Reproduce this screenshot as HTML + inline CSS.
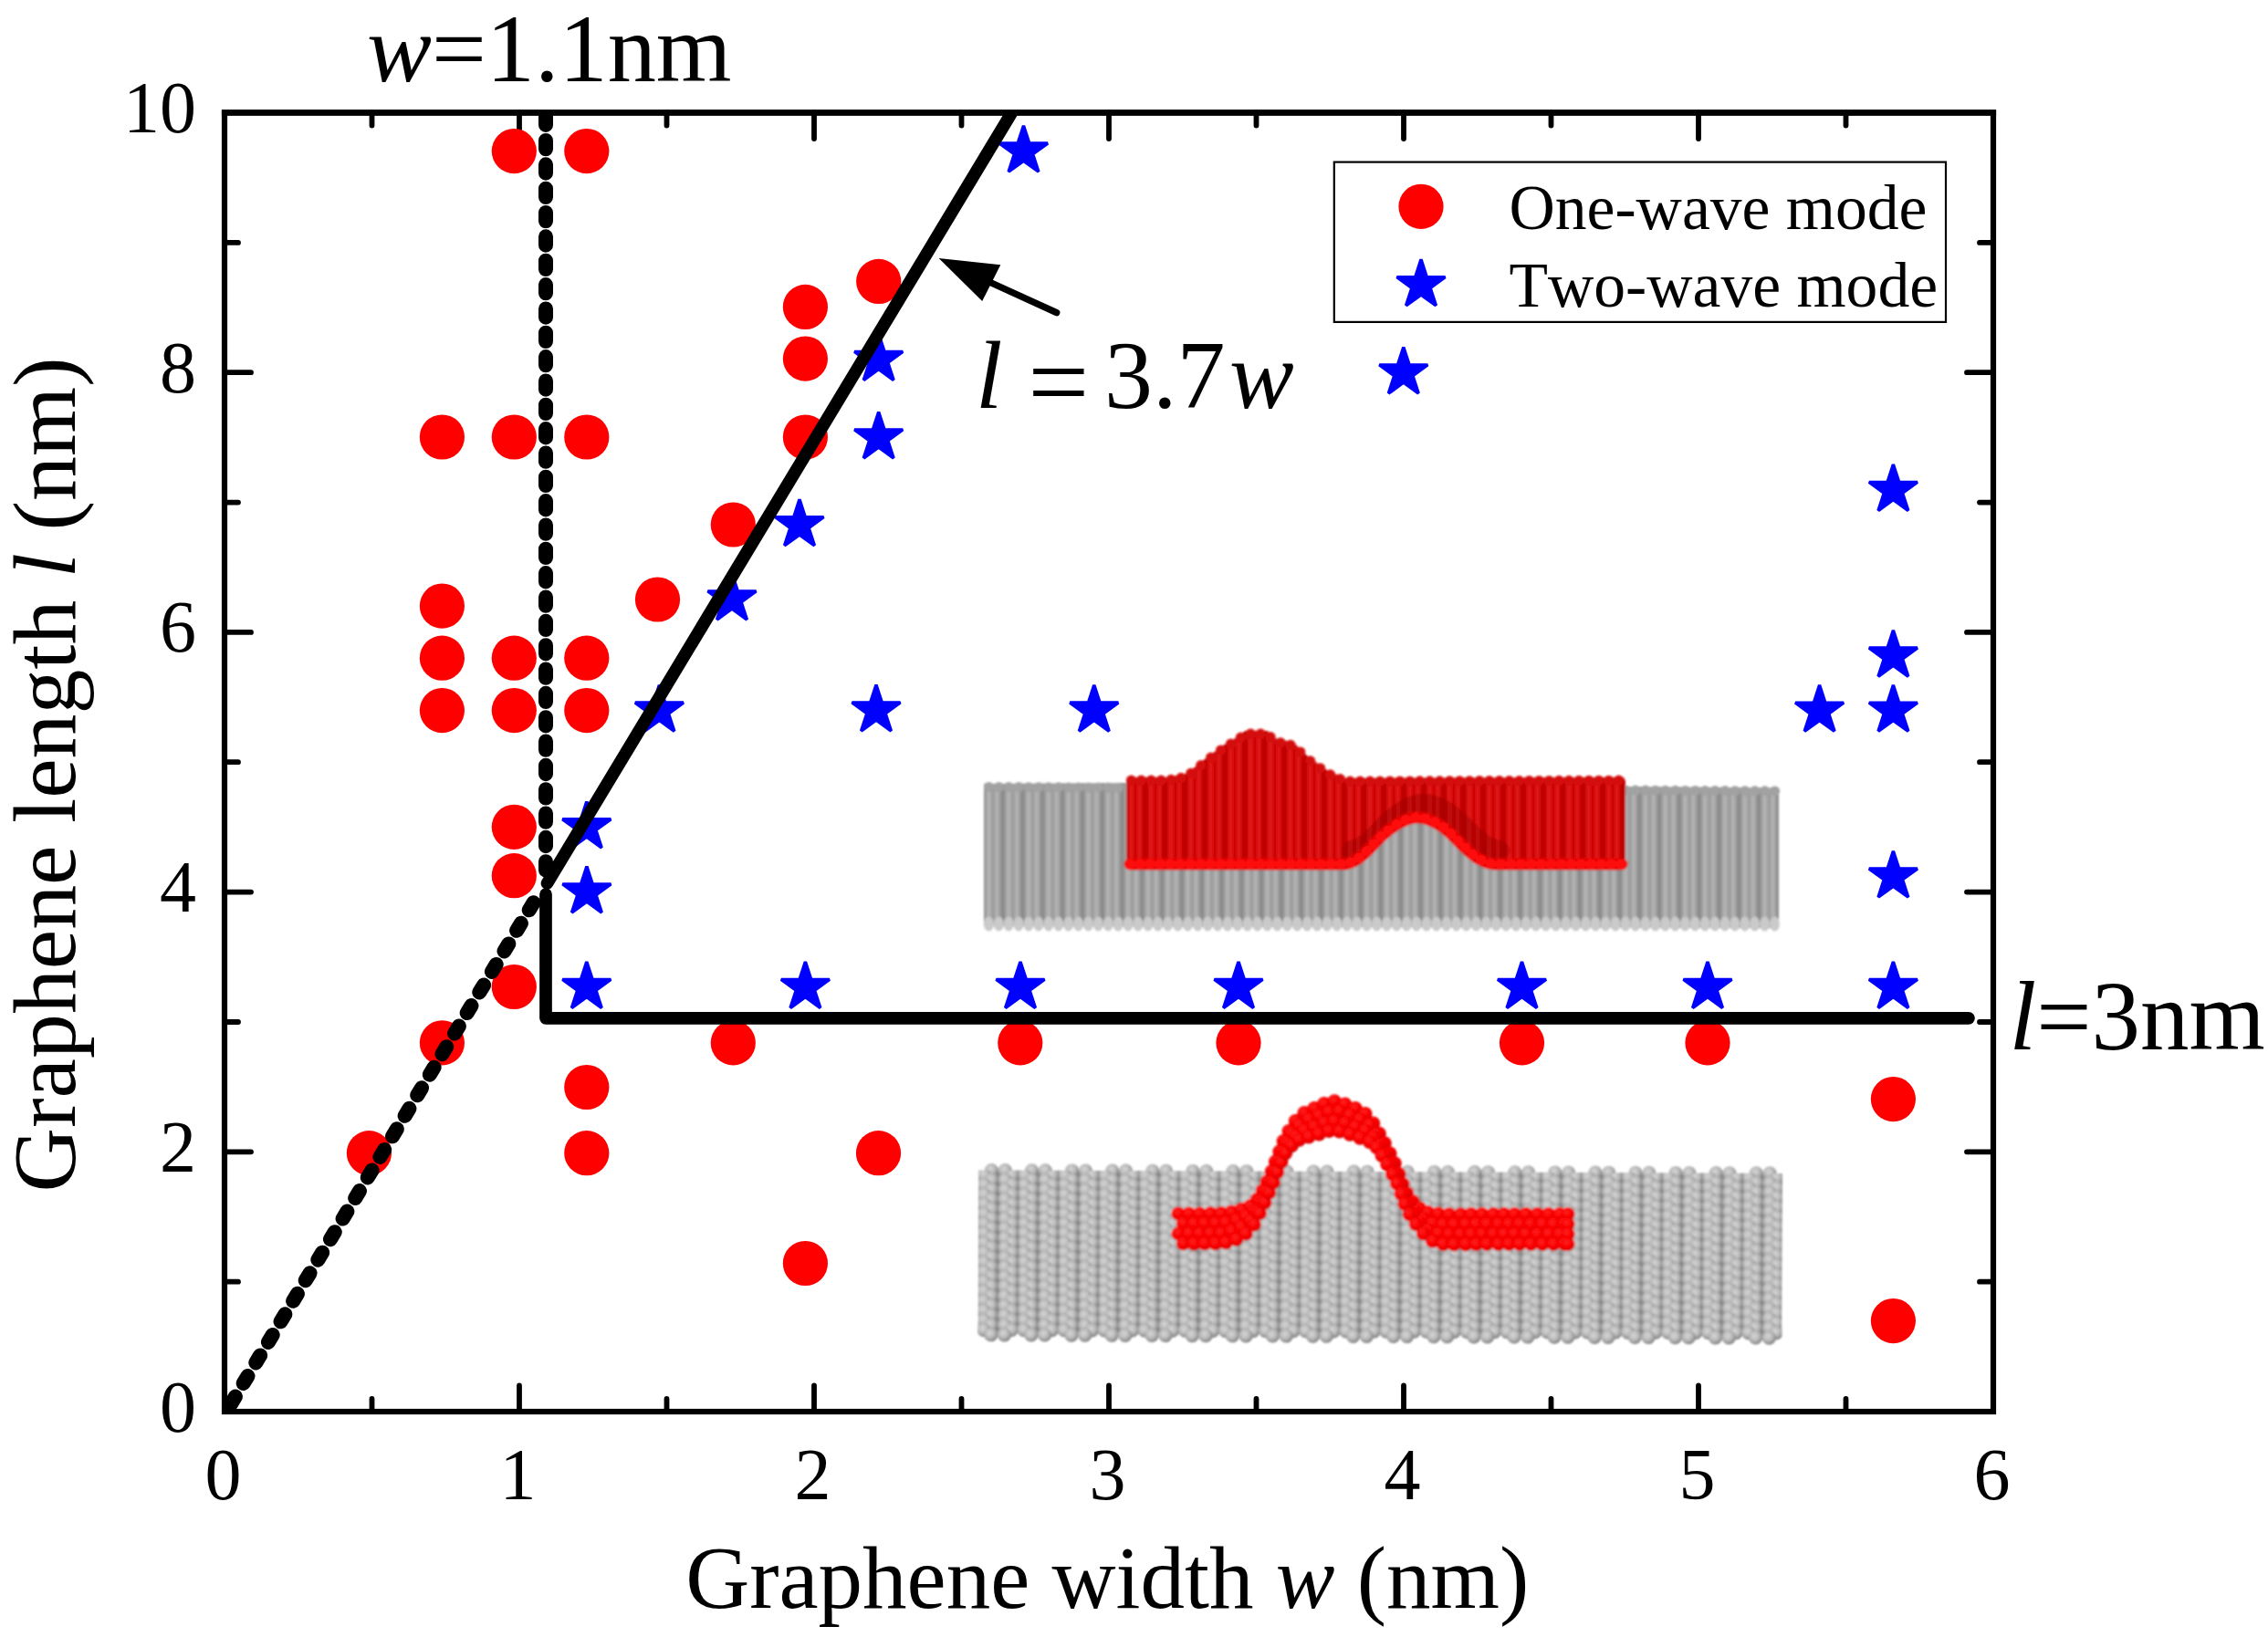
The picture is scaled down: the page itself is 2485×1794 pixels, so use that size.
<!DOCTYPE html>
<html lang="en">
<head>
<meta charset="utf-8">
<title>Graphene wave-mode phase diagram</title>
<style>
html,body{margin:0;padding:0;background:#fff;}
body{width:2485px;height:1794px;overflow:hidden;}
svg{display:block;}
text{font-family:"Liberation Serif",serif;fill:#000;font-kerning:none;}
.it{font-style:italic;}
</style>
</head>
<body>
<svg width="2485" height="1794" viewBox="0 0 2485 1794">
<defs>
<filter id="soft" x="-2%" y="-5%" width="104%" height="110%"><feGaussianBlur stdDeviation="0.9"/></filter>
<clipPath id="plotclip"><rect x="246.0" y="123.5" width="1938.0" height="1423.5"/></clipPath>
<radialGradient id="gBead" cx="42%" cy="38%" r="62%">
 <stop offset="0" stop-color="#d6d6d6"/><stop offset="0.5" stop-color="#bcbcbc"/><stop offset="0.85" stop-color="#969696"/><stop offset="1" stop-color="#787878"/>
</radialGradient>
<radialGradient id="rBead" cx="40%" cy="35%" r="70%">
 <stop offset="0" stop-color="#ff2020"/><stop offset="0.55" stop-color="#fa0000"/><stop offset="0.85" stop-color="#e00000"/><stop offset="1" stop-color="#a80000"/>
</radialGradient>
<!-- lower substrate: bead texture -->
<pattern id="pLow" x="1072.2" y="1282.5" width="44.1" height="10.6" patternUnits="userSpaceOnUse">
<rect width="44.1" height="10.6" fill="#8a8a8a"/>
<circle cx="6.30" cy="-5.30" r="7.5" fill="url(#gBead)"/>
<circle cx="50.40" cy="-5.30" r="7.5" fill="url(#gBead)"/>
<circle cx="-7.30" cy="-5.30" r="7.5" fill="url(#gBead)"/>
<circle cx="36.80" cy="-5.30" r="7.5" fill="url(#gBead)"/>
<circle cx="14.20" cy="0.00" r="7.5" fill="url(#gBead)"/>
<circle cx="29.00" cy="0.00" r="7.5" fill="url(#gBead)"/>
<circle cx="6.30" cy="5.30" r="7.5" fill="url(#gBead)"/>
<circle cx="50.40" cy="5.30" r="7.5" fill="url(#gBead)"/>
<circle cx="-7.30" cy="5.30" r="7.5" fill="url(#gBead)"/>
<circle cx="36.80" cy="5.30" r="7.5" fill="url(#gBead)"/>
<circle cx="14.20" cy="10.60" r="7.5" fill="url(#gBead)"/>
<circle cx="29.00" cy="10.60" r="7.5" fill="url(#gBead)"/>
<circle cx="6.30" cy="15.90" r="7.5" fill="url(#gBead)"/>
<circle cx="50.40" cy="15.90" r="7.5" fill="url(#gBead)"/>
<circle cx="-7.30" cy="15.90" r="7.5" fill="url(#gBead)"/>
<circle cx="36.80" cy="15.90" r="7.5" fill="url(#gBead)"/>
</pattern>
<!-- upper substrate: vertical ribs -->
<linearGradient id="ribG" x1="0" x2="1" y1="0" y2="0">
 <stop offset="0" stop-color="#8c8c8c"/><stop offset="0.1" stop-color="#a0a0a0"/><stop offset="0.24" stop-color="#b8b8b8"/>
 <stop offset="0.38" stop-color="#a4a4a4"/><stop offset="0.46" stop-color="#9a9a9a"/><stop offset="0.54" stop-color="#a4a4a4"/>
 <stop offset="0.66" stop-color="#b6b6b6"/><stop offset="0.8" stop-color="#a0a0a0"/><stop offset="0.92" stop-color="#888888"/>
 <stop offset="1" stop-color="#8c8c8c"/>
</linearGradient>
<pattern id="pUp" x="1078" y="858" width="21.8" height="8" patternUnits="userSpaceOnUse">
 <rect width="21.8" height="8" fill="url(#ribG)"/>
</pattern>
<linearGradient id="ribR" x1="0" x2="1" y1="0" y2="0">
 <stop offset="0" stop-color="#bc0000"/><stop offset="0.1" stop-color="#d00808"/><stop offset="0.24" stop-color="#e41c1c"/>
 <stop offset="0.38" stop-color="#d40a0a"/><stop offset="0.46" stop-color="#ca0202"/><stop offset="0.54" stop-color="#d40a0a"/>
 <stop offset="0.66" stop-color="#e21a1a"/><stop offset="0.8" stop-color="#d00606"/><stop offset="0.92" stop-color="#b80000"/>
 <stop offset="1" stop-color="#bc0000"/>
</linearGradient>
<pattern id="pRed" x="1234" y="853" width="21.8" height="8" patternUnits="userSpaceOnUse">
 <rect width="21.8" height="8" fill="url(#ribR)"/>
</pattern>
</defs>
<rect width="2485" height="1794" fill="#ffffff"/>

<g id="inset-two-wave" filter="url(#soft)">
<path d="M1078,859 L1234,858 L1781,862 L1949,863.5 L1949,1017 L1078,1015 Z" fill="url(#pUp)"/>
<ellipse cx="1083.4" cy="1012.5" rx="5.4" ry="8" fill="#cacaca"/><ellipse cx="1094.3" cy="1012.5" rx="5.4" ry="8" fill="#cacaca"/><ellipse cx="1105.2" cy="1012.5" rx="5.4" ry="8" fill="#cacaca"/><ellipse cx="1116.1" cy="1012.5" rx="5.4" ry="8" fill="#cacaca"/><ellipse cx="1127.0" cy="1012.5" rx="5.4" ry="8" fill="#cacaca"/><ellipse cx="1137.9" cy="1012.5" rx="5.4" ry="8" fill="#cacaca"/><ellipse cx="1148.8" cy="1012.5" rx="5.4" ry="8" fill="#cacaca"/><ellipse cx="1159.7" cy="1012.5" rx="5.4" ry="8" fill="#cacaca"/><ellipse cx="1170.6" cy="1012.5" rx="5.4" ry="8" fill="#cacaca"/><ellipse cx="1181.5" cy="1012.5" rx="5.4" ry="8" fill="#cacaca"/><ellipse cx="1192.4" cy="1012.5" rx="5.4" ry="8" fill="#cacaca"/><ellipse cx="1203.3" cy="1012.5" rx="5.4" ry="8" fill="#cacaca"/><ellipse cx="1214.2" cy="1012.5" rx="5.4" ry="8" fill="#cacaca"/><ellipse cx="1225.1" cy="1012.5" rx="5.4" ry="8" fill="#cacaca"/><ellipse cx="1236.0" cy="1012.5" rx="5.4" ry="8" fill="#cacaca"/><ellipse cx="1246.9" cy="1012.5" rx="5.4" ry="8" fill="#cacaca"/><ellipse cx="1257.8" cy="1012.5" rx="5.4" ry="8" fill="#cacaca"/><ellipse cx="1268.7" cy="1012.5" rx="5.4" ry="8" fill="#cacaca"/><ellipse cx="1279.6" cy="1012.5" rx="5.4" ry="8" fill="#cacaca"/><ellipse cx="1290.5" cy="1012.5" rx="5.4" ry="8" fill="#cacaca"/><ellipse cx="1301.4" cy="1012.5" rx="5.4" ry="8" fill="#cacaca"/><ellipse cx="1312.3" cy="1012.5" rx="5.4" ry="8" fill="#cacaca"/><ellipse cx="1323.2" cy="1012.5" rx="5.4" ry="8" fill="#cacaca"/><ellipse cx="1334.1" cy="1012.5" rx="5.4" ry="8" fill="#cacaca"/><ellipse cx="1345.0" cy="1012.5" rx="5.4" ry="8" fill="#cacaca"/><ellipse cx="1355.9" cy="1012.5" rx="5.4" ry="8" fill="#cacaca"/><ellipse cx="1366.8" cy="1012.5" rx="5.4" ry="8" fill="#cacaca"/><ellipse cx="1377.7" cy="1012.5" rx="5.4" ry="8" fill="#cacaca"/><ellipse cx="1388.6" cy="1012.5" rx="5.4" ry="8" fill="#cacaca"/><ellipse cx="1399.5" cy="1012.5" rx="5.4" ry="8" fill="#cacaca"/><ellipse cx="1410.4" cy="1012.5" rx="5.4" ry="8" fill="#cacaca"/><ellipse cx="1421.3" cy="1012.5" rx="5.4" ry="8" fill="#cacaca"/><ellipse cx="1432.2" cy="1012.5" rx="5.4" ry="8" fill="#cacaca"/><ellipse cx="1443.1" cy="1012.5" rx="5.4" ry="8" fill="#cacaca"/><ellipse cx="1454.0" cy="1012.5" rx="5.4" ry="8" fill="#cacaca"/><ellipse cx="1464.9" cy="1012.5" rx="5.4" ry="8" fill="#cacaca"/><ellipse cx="1475.8" cy="1012.5" rx="5.4" ry="8" fill="#cacaca"/><ellipse cx="1486.7" cy="1012.5" rx="5.4" ry="8" fill="#cacaca"/><ellipse cx="1497.6" cy="1012.5" rx="5.4" ry="8" fill="#cacaca"/><ellipse cx="1508.5" cy="1012.5" rx="5.4" ry="8" fill="#cacaca"/><ellipse cx="1519.4" cy="1012.5" rx="5.4" ry="8" fill="#cacaca"/><ellipse cx="1530.3" cy="1012.5" rx="5.4" ry="8" fill="#cacaca"/><ellipse cx="1541.2" cy="1012.5" rx="5.4" ry="8" fill="#cacaca"/><ellipse cx="1552.1" cy="1012.5" rx="5.4" ry="8" fill="#cacaca"/><ellipse cx="1563.0" cy="1012.5" rx="5.4" ry="8" fill="#cacaca"/><ellipse cx="1573.9" cy="1012.5" rx="5.4" ry="8" fill="#cacaca"/><ellipse cx="1584.8" cy="1012.5" rx="5.4" ry="8" fill="#cacaca"/><ellipse cx="1595.7" cy="1012.5" rx="5.4" ry="8" fill="#cacaca"/><ellipse cx="1606.6" cy="1012.5" rx="5.4" ry="8" fill="#cacaca"/><ellipse cx="1617.5" cy="1012.5" rx="5.4" ry="8" fill="#cacaca"/><ellipse cx="1628.4" cy="1012.5" rx="5.4" ry="8" fill="#cacaca"/><ellipse cx="1639.3" cy="1012.5" rx="5.4" ry="8" fill="#cacaca"/><ellipse cx="1650.2" cy="1012.5" rx="5.4" ry="8" fill="#cacaca"/><ellipse cx="1661.1" cy="1012.5" rx="5.4" ry="8" fill="#cacaca"/><ellipse cx="1672.0" cy="1012.5" rx="5.4" ry="8" fill="#cacaca"/><ellipse cx="1682.9" cy="1012.5" rx="5.4" ry="8" fill="#cacaca"/><ellipse cx="1693.8" cy="1012.5" rx="5.4" ry="8" fill="#cacaca"/><ellipse cx="1704.7" cy="1012.5" rx="5.4" ry="8" fill="#cacaca"/><ellipse cx="1715.6" cy="1012.5" rx="5.4" ry="8" fill="#cacaca"/><ellipse cx="1726.5" cy="1012.5" rx="5.4" ry="8" fill="#cacaca"/><ellipse cx="1737.4" cy="1012.5" rx="5.4" ry="8" fill="#cacaca"/><ellipse cx="1748.3" cy="1012.5" rx="5.4" ry="8" fill="#cacaca"/><ellipse cx="1759.2" cy="1012.5" rx="5.4" ry="8" fill="#cacaca"/><ellipse cx="1770.1" cy="1012.5" rx="5.4" ry="8" fill="#cacaca"/><ellipse cx="1781.0" cy="1012.5" rx="5.4" ry="8" fill="#cacaca"/><ellipse cx="1791.9" cy="1012.5" rx="5.4" ry="8" fill="#cacaca"/><ellipse cx="1802.8" cy="1012.5" rx="5.4" ry="8" fill="#cacaca"/><ellipse cx="1813.7" cy="1012.5" rx="5.4" ry="8" fill="#cacaca"/><ellipse cx="1824.6" cy="1012.5" rx="5.4" ry="8" fill="#cacaca"/><ellipse cx="1835.5" cy="1012.5" rx="5.4" ry="8" fill="#cacaca"/><ellipse cx="1846.4" cy="1012.5" rx="5.4" ry="8" fill="#cacaca"/><ellipse cx="1857.3" cy="1012.5" rx="5.4" ry="8" fill="#cacaca"/><ellipse cx="1868.2" cy="1012.5" rx="5.4" ry="8" fill="#cacaca"/><ellipse cx="1879.1" cy="1012.5" rx="5.4" ry="8" fill="#cacaca"/><ellipse cx="1890.0" cy="1012.5" rx="5.4" ry="8" fill="#cacaca"/><ellipse cx="1900.9" cy="1012.5" rx="5.4" ry="8" fill="#cacaca"/><ellipse cx="1911.8" cy="1012.5" rx="5.4" ry="8" fill="#cacaca"/><ellipse cx="1922.7" cy="1012.5" rx="5.4" ry="8" fill="#cacaca"/><ellipse cx="1933.6" cy="1012.5" rx="5.4" ry="8" fill="#cacaca"/><ellipse cx="1944.5" cy="1012.5" rx="5.4" ry="8" fill="#cacaca"/>
<circle cx="1083.5" cy="862.5" r="5.6" fill="#a2a2a2"/><circle cx="1094.4" cy="862.6" r="5.6" fill="#a2a2a2"/><circle cx="1105.3" cy="862.6" r="5.6" fill="#a2a2a2"/><circle cx="1116.2" cy="862.7" r="5.6" fill="#a2a2a2"/><circle cx="1127.1" cy="862.8" r="5.6" fill="#a2a2a2"/><circle cx="1138.0" cy="862.8" r="5.6" fill="#a2a2a2"/><circle cx="1148.9" cy="862.9" r="5.6" fill="#a2a2a2"/><circle cx="1159.8" cy="862.9" r="5.6" fill="#a2a2a2"/><circle cx="1170.7" cy="863.0" r="5.6" fill="#a2a2a2"/><circle cx="1181.6" cy="863.0" r="5.6" fill="#a2a2a2"/><circle cx="1192.5" cy="863.1" r="5.6" fill="#a2a2a2"/><circle cx="1203.4" cy="863.1" r="5.6" fill="#a2a2a2"/><circle cx="1214.3" cy="863.2" r="5.6" fill="#a2a2a2"/><circle cx="1225.2" cy="863.3" r="5.6" fill="#a2a2a2"/><circle cx="1781.1" cy="866.1" r="5.6" fill="#a2a2a2"/><circle cx="1792.0" cy="866.2" r="5.6" fill="#a2a2a2"/><circle cx="1802.9" cy="866.2" r="5.6" fill="#a2a2a2"/><circle cx="1813.8" cy="866.3" r="5.6" fill="#a2a2a2"/><circle cx="1824.7" cy="866.4" r="5.6" fill="#a2a2a2"/><circle cx="1835.6" cy="866.4" r="5.6" fill="#a2a2a2"/><circle cx="1846.5" cy="866.5" r="5.6" fill="#a2a2a2"/><circle cx="1857.4" cy="866.5" r="5.6" fill="#a2a2a2"/><circle cx="1868.3" cy="866.6" r="5.6" fill="#a2a2a2"/><circle cx="1879.2" cy="866.6" r="5.6" fill="#a2a2a2"/><circle cx="1890.1" cy="866.7" r="5.6" fill="#a2a2a2"/><circle cx="1901.0" cy="866.8" r="5.6" fill="#a2a2a2"/><circle cx="1911.9" cy="866.8" r="5.6" fill="#a2a2a2"/><circle cx="1922.8" cy="866.9" r="5.6" fill="#a2a2a2"/><circle cx="1933.7" cy="866.9" r="5.6" fill="#a2a2a2"/><circle cx="1944.6" cy="867.0" r="5.6" fill="#a2a2a2"/>
<path d="M1234.0,856.0 L1236.0,852.0 L1279.0,852.0 L1300.0,848.0 L1320.0,832.0 L1340.0,817.0 L1357.0,807.0 L1364.0,801.0 L1389.0,801.0 L1396.0,809.0 L1418.0,814.0 L1432.0,828.0 L1454.0,844.0 L1474.0,853.0 L1779.0,852.0 L1781.0,856.0 L1781.0,947.0 L1777.0,947.0 L1636.0,947.0 L1632.2,946.2 L1628.6,945.1 L1625.2,943.7 L1621.9,942.0 L1618.6,940.1 L1615.5,937.9 L1612.5,935.6 L1609.5,933.1 L1606.6,930.5 L1603.7,927.7 L1600.8,924.9 L1597.9,922.0 L1595.0,919.0 L1592.0,916.0 L1589.0,913.1 L1586.0,910.5 L1583.0,908.1 L1580.1,905.9 L1577.1,904.0 L1574.2,902.3 L1571.4,900.8 L1568.6,899.5 L1565.8,898.4 L1563.1,897.5 L1560.5,896.8 L1557.9,896.4 L1555.4,896.1 L1553.0,896.0 L1550.6,896.1 L1548.2,896.4 L1545.8,896.8 L1543.3,897.5 L1540.7,898.4 L1538.1,899.5 L1535.4,900.8 L1532.6,902.3 L1529.7,904.0 L1526.8,905.9 L1523.8,908.1 L1520.6,910.5 L1517.4,913.1 L1514.0,916.0 L1511.1,919.0 L1508.2,922.0 L1505.5,924.9 L1502.7,927.7 L1500.1,930.5 L1497.4,933.1 L1494.8,935.6 L1492.1,937.9 L1489.3,940.1 L1486.5,942.0 L1483.6,943.7 L1480.5,945.1 L1477.3,946.2 L1474.0,947.0 L1238.0,947.0 L1234.0,947.0 Z" fill="url(#pRed)"/>
<circle cx="1239.5" cy="855.2" r="5.6" fill="#d40a0a"/><circle cx="1250.4" cy="855.2" r="5.6" fill="#d40a0a"/><circle cx="1261.3" cy="855.2" r="5.6" fill="#d40a0a"/><circle cx="1272.2" cy="855.2" r="5.6" fill="#d40a0a"/><circle cx="1283.1" cy="854.4" r="5.6" fill="#d40a0a"/><circle cx="1294.0" cy="852.4" r="5.6" fill="#d40a0a"/><circle cx="1304.9" cy="847.3" r="5.6" fill="#d40a0a"/><circle cx="1315.8" cy="838.6" r="5.6" fill="#d40a0a"/><circle cx="1326.7" cy="830.2" r="5.6" fill="#d40a0a"/><circle cx="1337.6" cy="822.0" r="5.6" fill="#d40a0a"/><circle cx="1348.5" cy="815.2" r="5.6" fill="#d40a0a"/><circle cx="1359.4" cy="808.2" r="5.6" fill="#d40a0a"/><circle cx="1370.3" cy="804.2" r="5.6" fill="#d40a0a"/><circle cx="1381.2" cy="804.2" r="5.6" fill="#d40a0a"/><circle cx="1392.1" cy="807.7" r="5.6" fill="#d40a0a"/><circle cx="1403.0" cy="813.8" r="5.6" fill="#d40a0a"/><circle cx="1413.9" cy="816.3" r="5.6" fill="#d40a0a"/><circle cx="1424.8" cy="824.0" r="5.6" fill="#d40a0a"/><circle cx="1435.7" cy="833.9" r="5.6" fill="#d40a0a"/><circle cx="1446.6" cy="841.8" r="5.6" fill="#d40a0a"/><circle cx="1457.5" cy="848.8" r="5.6" fill="#d40a0a"/><circle cx="1468.4" cy="853.7" r="5.6" fill="#d40a0a"/><circle cx="1479.3" cy="856.2" r="5.6" fill="#d40a0a"/><circle cx="1490.2" cy="856.1" r="5.6" fill="#d40a0a"/><circle cx="1501.1" cy="856.1" r="5.6" fill="#d40a0a"/><circle cx="1512.0" cy="856.1" r="5.6" fill="#d40a0a"/><circle cx="1522.9" cy="856.0" r="5.6" fill="#d40a0a"/><circle cx="1533.8" cy="856.0" r="5.6" fill="#d40a0a"/><circle cx="1544.7" cy="856.0" r="5.6" fill="#d40a0a"/><circle cx="1555.6" cy="855.9" r="5.6" fill="#d40a0a"/><circle cx="1566.5" cy="855.9" r="5.6" fill="#d40a0a"/><circle cx="1577.4" cy="855.9" r="5.6" fill="#d40a0a"/><circle cx="1588.3" cy="855.8" r="5.6" fill="#d40a0a"/><circle cx="1599.2" cy="855.8" r="5.6" fill="#d40a0a"/><circle cx="1610.1" cy="855.8" r="5.6" fill="#d40a0a"/><circle cx="1621.0" cy="855.7" r="5.6" fill="#d40a0a"/><circle cx="1631.9" cy="855.7" r="5.6" fill="#d40a0a"/><circle cx="1642.8" cy="855.6" r="5.6" fill="#d40a0a"/><circle cx="1653.7" cy="855.6" r="5.6" fill="#d40a0a"/><circle cx="1664.6" cy="855.6" r="5.6" fill="#d40a0a"/><circle cx="1675.5" cy="855.5" r="5.6" fill="#d40a0a"/><circle cx="1686.4" cy="855.5" r="5.6" fill="#d40a0a"/><circle cx="1697.3" cy="855.5" r="5.6" fill="#d40a0a"/><circle cx="1708.2" cy="855.4" r="5.6" fill="#d40a0a"/><circle cx="1719.1" cy="855.4" r="5.6" fill="#d40a0a"/><circle cx="1730.0" cy="855.4" r="5.6" fill="#d40a0a"/><circle cx="1740.9" cy="855.3" r="5.6" fill="#d40a0a"/><circle cx="1751.8" cy="855.3" r="5.6" fill="#d40a0a"/><circle cx="1762.7" cy="855.3" r="5.6" fill="#d40a0a"/><circle cx="1773.6" cy="855.2" r="5.6" fill="#d40a0a"/>
<path d="M1481.0,932.0 L1484.3,931.2 L1487.5,930.1 L1490.6,928.7 L1493.5,927.0 L1496.3,925.1 L1499.1,922.9 L1501.8,920.6 L1504.4,918.1 L1507.1,915.5 L1509.7,912.7 L1512.5,909.9 L1515.2,907.0 L1518.1,904.0 L1521.0,901.0 L1524.4,898.1 L1527.6,895.5 L1530.8,893.1 L1533.8,890.9 L1536.7,889.0 L1539.6,887.3 L1542.4,885.8 L1545.1,884.5 L1547.7,883.4 L1550.3,882.5 L1552.8,881.8 L1555.2,881.4 L1557.6,881.1 L1560.0,881.0 L1562.4,881.1 L1564.9,881.4 L1567.5,881.8 L1570.1,882.5 L1572.8,883.4 L1575.6,884.5 L1578.4,885.8 L1581.2,887.3 L1584.1,889.0 L1587.1,890.9 L1590.0,893.1 L1593.0,895.5 L1596.0,898.1 L1599.0,901.0 L1602.0,904.0 L1604.9,907.0 L1607.8,909.9 L1610.7,912.7 L1613.6,915.5 L1616.5,918.1 L1619.5,920.6 L1622.5,922.9 L1625.6,925.1 L1628.9,927.0 L1632.2,928.7 L1635.6,930.1 L1639.2,931.2 L1643.0,932.0" fill="none" stroke="#960000" stroke-width="22" stroke-linecap="round" stroke-linejoin="round" opacity="0.45"/>
<path d="M1238.0,947.0 L1474.0,947.0 L1477.3,946.2 L1480.5,945.1 L1483.6,943.7 L1486.5,942.0 L1489.3,940.1 L1492.1,937.9 L1494.8,935.6 L1497.4,933.1 L1500.1,930.5 L1502.7,927.7 L1505.5,924.9 L1508.2,922.0 L1511.1,919.0 L1514.0,916.0 L1517.4,913.1 L1520.6,910.5 L1523.8,908.1 L1526.8,905.9 L1529.7,904.0 L1532.6,902.3 L1535.4,900.8 L1538.1,899.5 L1540.7,898.4 L1543.3,897.5 L1545.8,896.8 L1548.2,896.4 L1550.6,896.1 L1553.0,896.0 L1555.4,896.1 L1557.9,896.4 L1560.5,896.8 L1563.1,897.5 L1565.8,898.4 L1568.6,899.5 L1571.4,900.8 L1574.2,902.3 L1577.1,904.0 L1580.1,905.9 L1583.0,908.1 L1586.0,910.5 L1589.0,913.1 L1592.0,916.0 L1595.0,919.0 L1597.9,922.0 L1600.8,924.9 L1603.7,927.7 L1606.6,930.5 L1609.5,933.1 L1612.5,935.6 L1615.5,937.9 L1618.6,940.1 L1621.9,942.0 L1625.2,943.7 L1628.6,945.1 L1632.2,946.2 L1636.0,947.0 L1777.0,947.0" fill="none" stroke="#e60606" stroke-width="13" stroke-linecap="round" stroke-linejoin="round"/>
<path d="M1238.0,947.0 L1474.0,947.0 L1477.3,946.2 L1480.5,945.1 L1483.6,943.7 L1486.5,942.0 L1489.3,940.1 L1492.1,937.9 L1494.8,935.6 L1497.4,933.1 L1500.1,930.5 L1502.7,927.7 L1505.5,924.9 L1508.2,922.0 L1511.1,919.0 L1514.0,916.0 L1517.4,913.1 L1520.6,910.5 L1523.8,908.1 L1526.8,905.9 L1529.7,904.0 L1532.6,902.3 L1535.4,900.8 L1538.1,899.5 L1540.7,898.4 L1543.3,897.5 L1545.8,896.8 L1548.2,896.4 L1550.6,896.1 L1553.0,896.0 L1555.4,896.1 L1557.9,896.4 L1560.5,896.8 L1563.1,897.5 L1565.8,898.4 L1568.6,899.5 L1571.4,900.8 L1574.2,902.3 L1577.1,904.0 L1580.1,905.9 L1583.0,908.1 L1586.0,910.5 L1589.0,913.1 L1592.0,916.0 L1595.0,919.0 L1597.9,922.0 L1600.8,924.9 L1603.7,927.7 L1606.6,930.5 L1609.5,933.1 L1612.5,935.6 L1615.5,937.9 L1618.6,940.1 L1621.9,942.0 L1625.2,943.7 L1628.6,945.1 L1632.2,946.2 L1636.0,947.0 L1777.0,947.0" fill="none" stroke="#ff0a0a" stroke-width="11" stroke-linecap="round" stroke-linejoin="round" stroke-dasharray="0.1 10.9"/>
</g>
<g id="inset-one-wave" filter="url(#soft)">
<clipPath id="cLow"><rect x="1072.2" y="1270" width="880.8" height="210"/></clipPath>
<g clip-path="url(#cLow)" transform="rotate(0.22 1072 1276)">
<circle cx="1042.3" cy="1282.5" r="7.5" fill="url(#gBead)"/><circle cx="1057.1" cy="1282.5" r="7.5" fill="url(#gBead)"/><circle cx="1086.4" cy="1282.5" r="7.5" fill="url(#gBead)"/><circle cx="1101.2" cy="1282.5" r="7.5" fill="url(#gBead)"/><circle cx="1130.5" cy="1282.5" r="7.5" fill="url(#gBead)"/><circle cx="1145.3" cy="1282.5" r="7.5" fill="url(#gBead)"/><circle cx="1174.6" cy="1282.5" r="7.5" fill="url(#gBead)"/><circle cx="1189.4" cy="1282.5" r="7.5" fill="url(#gBead)"/><circle cx="1218.7" cy="1282.5" r="7.5" fill="url(#gBead)"/><circle cx="1233.5" cy="1282.5" r="7.5" fill="url(#gBead)"/><circle cx="1262.8" cy="1282.5" r="7.5" fill="url(#gBead)"/><circle cx="1277.6" cy="1282.5" r="7.5" fill="url(#gBead)"/><circle cx="1306.9" cy="1282.5" r="7.5" fill="url(#gBead)"/><circle cx="1321.7" cy="1282.5" r="7.5" fill="url(#gBead)"/><circle cx="1351.0" cy="1282.5" r="7.5" fill="url(#gBead)"/><circle cx="1365.8" cy="1282.5" r="7.5" fill="url(#gBead)"/><circle cx="1395.1" cy="1282.5" r="7.5" fill="url(#gBead)"/><circle cx="1409.9" cy="1282.5" r="7.5" fill="url(#gBead)"/><circle cx="1439.2" cy="1282.5" r="7.5" fill="url(#gBead)"/><circle cx="1454.0" cy="1282.5" r="7.5" fill="url(#gBead)"/><circle cx="1483.3" cy="1282.5" r="7.5" fill="url(#gBead)"/><circle cx="1498.1" cy="1282.5" r="7.5" fill="url(#gBead)"/><circle cx="1527.4" cy="1282.5" r="7.5" fill="url(#gBead)"/><circle cx="1542.2" cy="1282.5" r="7.5" fill="url(#gBead)"/><circle cx="1571.5" cy="1282.5" r="7.5" fill="url(#gBead)"/><circle cx="1586.3" cy="1282.5" r="7.5" fill="url(#gBead)"/><circle cx="1615.6" cy="1282.5" r="7.5" fill="url(#gBead)"/><circle cx="1630.4" cy="1282.5" r="7.5" fill="url(#gBead)"/><circle cx="1659.7" cy="1282.5" r="7.5" fill="url(#gBead)"/><circle cx="1674.5" cy="1282.5" r="7.5" fill="url(#gBead)"/><circle cx="1703.8" cy="1282.5" r="7.5" fill="url(#gBead)"/><circle cx="1718.6" cy="1282.5" r="7.5" fill="url(#gBead)"/><circle cx="1747.9" cy="1282.5" r="7.5" fill="url(#gBead)"/><circle cx="1762.7" cy="1282.5" r="7.5" fill="url(#gBead)"/><circle cx="1792.0" cy="1282.5" r="7.5" fill="url(#gBead)"/><circle cx="1806.8" cy="1282.5" r="7.5" fill="url(#gBead)"/><circle cx="1836.1" cy="1282.5" r="7.5" fill="url(#gBead)"/><circle cx="1850.9" cy="1282.5" r="7.5" fill="url(#gBead)"/><circle cx="1880.2" cy="1282.5" r="7.5" fill="url(#gBead)"/><circle cx="1895.0" cy="1282.5" r="7.5" fill="url(#gBead)"/><circle cx="1924.3" cy="1282.5" r="7.5" fill="url(#gBead)"/><circle cx="1939.1" cy="1282.5" r="7.5" fill="url(#gBead)"/><circle cx="1968.4" cy="1282.5" r="7.5" fill="url(#gBead)"/><circle cx="1983.2" cy="1282.5" r="7.5" fill="url(#gBead)"/>
<rect x="1072.2" y="1282.5" width="880.8" height="178.2" fill="url(#pLow)"/>
<circle cx="1034.4" cy="1457.4" r="7.5" fill="url(#gBead)"/><circle cx="1064.9" cy="1457.4" r="7.5" fill="url(#gBead)"/><circle cx="1078.5" cy="1457.4" r="7.5" fill="url(#gBead)"/><circle cx="1109.0" cy="1457.4" r="7.5" fill="url(#gBead)"/><circle cx="1122.6" cy="1457.4" r="7.5" fill="url(#gBead)"/><circle cx="1153.1" cy="1457.4" r="7.5" fill="url(#gBead)"/><circle cx="1166.7" cy="1457.4" r="7.5" fill="url(#gBead)"/><circle cx="1197.2" cy="1457.4" r="7.5" fill="url(#gBead)"/><circle cx="1210.8" cy="1457.4" r="7.5" fill="url(#gBead)"/><circle cx="1241.3" cy="1457.4" r="7.5" fill="url(#gBead)"/><circle cx="1254.9" cy="1457.4" r="7.5" fill="url(#gBead)"/><circle cx="1285.4" cy="1457.4" r="7.5" fill="url(#gBead)"/><circle cx="1299.0" cy="1457.4" r="7.5" fill="url(#gBead)"/><circle cx="1329.5" cy="1457.4" r="7.5" fill="url(#gBead)"/><circle cx="1343.1" cy="1457.4" r="7.5" fill="url(#gBead)"/><circle cx="1373.6" cy="1457.4" r="7.5" fill="url(#gBead)"/><circle cx="1387.2" cy="1457.4" r="7.5" fill="url(#gBead)"/><circle cx="1417.7" cy="1457.4" r="7.5" fill="url(#gBead)"/><circle cx="1431.3" cy="1457.4" r="7.5" fill="url(#gBead)"/><circle cx="1461.8" cy="1457.4" r="7.5" fill="url(#gBead)"/><circle cx="1475.4" cy="1457.4" r="7.5" fill="url(#gBead)"/><circle cx="1505.9" cy="1457.4" r="7.5" fill="url(#gBead)"/><circle cx="1519.5" cy="1457.4" r="7.5" fill="url(#gBead)"/><circle cx="1550.0" cy="1457.4" r="7.5" fill="url(#gBead)"/><circle cx="1563.6" cy="1457.4" r="7.5" fill="url(#gBead)"/><circle cx="1594.1" cy="1457.4" r="7.5" fill="url(#gBead)"/><circle cx="1607.7" cy="1457.4" r="7.5" fill="url(#gBead)"/><circle cx="1638.2" cy="1457.4" r="7.5" fill="url(#gBead)"/><circle cx="1651.8" cy="1457.4" r="7.5" fill="url(#gBead)"/><circle cx="1682.3" cy="1457.4" r="7.5" fill="url(#gBead)"/><circle cx="1695.9" cy="1457.4" r="7.5" fill="url(#gBead)"/><circle cx="1726.4" cy="1457.4" r="7.5" fill="url(#gBead)"/><circle cx="1740.0" cy="1457.4" r="7.5" fill="url(#gBead)"/><circle cx="1770.5" cy="1457.4" r="7.5" fill="url(#gBead)"/><circle cx="1784.1" cy="1457.4" r="7.5" fill="url(#gBead)"/><circle cx="1814.6" cy="1457.4" r="7.5" fill="url(#gBead)"/><circle cx="1828.2" cy="1457.4" r="7.5" fill="url(#gBead)"/><circle cx="1858.7" cy="1457.4" r="7.5" fill="url(#gBead)"/><circle cx="1872.3" cy="1457.4" r="7.5" fill="url(#gBead)"/><circle cx="1902.8" cy="1457.4" r="7.5" fill="url(#gBead)"/><circle cx="1916.4" cy="1457.4" r="7.5" fill="url(#gBead)"/><circle cx="1946.9" cy="1457.4" r="7.5" fill="url(#gBead)"/><circle cx="1960.5" cy="1457.4" r="7.5" fill="url(#gBead)"/><circle cx="1991.0" cy="1457.4" r="7.5" fill="url(#gBead)"/><circle cx="1042.3" cy="1462.7" r="7.6" fill="url(#gBead)"/><circle cx="1057.1" cy="1462.7" r="7.6" fill="url(#gBead)"/><circle cx="1086.4" cy="1462.7" r="7.6" fill="url(#gBead)"/><circle cx="1101.2" cy="1462.7" r="7.6" fill="url(#gBead)"/><circle cx="1130.5" cy="1462.7" r="7.6" fill="url(#gBead)"/><circle cx="1145.3" cy="1462.7" r="7.6" fill="url(#gBead)"/><circle cx="1174.6" cy="1462.7" r="7.6" fill="url(#gBead)"/><circle cx="1189.4" cy="1462.7" r="7.6" fill="url(#gBead)"/><circle cx="1218.7" cy="1462.7" r="7.6" fill="url(#gBead)"/><circle cx="1233.5" cy="1462.7" r="7.6" fill="url(#gBead)"/><circle cx="1262.8" cy="1462.7" r="7.6" fill="url(#gBead)"/><circle cx="1277.6" cy="1462.7" r="7.6" fill="url(#gBead)"/><circle cx="1306.9" cy="1462.7" r="7.6" fill="url(#gBead)"/><circle cx="1321.7" cy="1462.7" r="7.6" fill="url(#gBead)"/><circle cx="1351.0" cy="1462.7" r="7.6" fill="url(#gBead)"/><circle cx="1365.8" cy="1462.7" r="7.6" fill="url(#gBead)"/><circle cx="1395.1" cy="1462.7" r="7.6" fill="url(#gBead)"/><circle cx="1409.9" cy="1462.7" r="7.6" fill="url(#gBead)"/><circle cx="1439.2" cy="1462.7" r="7.6" fill="url(#gBead)"/><circle cx="1454.0" cy="1462.7" r="7.6" fill="url(#gBead)"/><circle cx="1483.3" cy="1462.7" r="7.6" fill="url(#gBead)"/><circle cx="1498.1" cy="1462.7" r="7.6" fill="url(#gBead)"/><circle cx="1527.4" cy="1462.7" r="7.6" fill="url(#gBead)"/><circle cx="1542.2" cy="1462.7" r="7.6" fill="url(#gBead)"/><circle cx="1571.5" cy="1462.7" r="7.6" fill="url(#gBead)"/><circle cx="1586.3" cy="1462.7" r="7.6" fill="url(#gBead)"/><circle cx="1615.6" cy="1462.7" r="7.6" fill="url(#gBead)"/><circle cx="1630.4" cy="1462.7" r="7.6" fill="url(#gBead)"/><circle cx="1659.7" cy="1462.7" r="7.6" fill="url(#gBead)"/><circle cx="1674.5" cy="1462.7" r="7.6" fill="url(#gBead)"/><circle cx="1703.8" cy="1462.7" r="7.6" fill="url(#gBead)"/><circle cx="1718.6" cy="1462.7" r="7.6" fill="url(#gBead)"/><circle cx="1747.9" cy="1462.7" r="7.6" fill="url(#gBead)"/><circle cx="1762.7" cy="1462.7" r="7.6" fill="url(#gBead)"/><circle cx="1792.0" cy="1462.7" r="7.6" fill="url(#gBead)"/><circle cx="1806.8" cy="1462.7" r="7.6" fill="url(#gBead)"/><circle cx="1836.1" cy="1462.7" r="7.6" fill="url(#gBead)"/><circle cx="1850.9" cy="1462.7" r="7.6" fill="url(#gBead)"/><circle cx="1880.2" cy="1462.7" r="7.6" fill="url(#gBead)"/><circle cx="1895.0" cy="1462.7" r="7.6" fill="url(#gBead)"/><circle cx="1924.3" cy="1462.7" r="7.6" fill="url(#gBead)"/><circle cx="1939.1" cy="1462.7" r="7.6" fill="url(#gBead)"/><circle cx="1968.4" cy="1462.7" r="7.6" fill="url(#gBead)"/><circle cx="1983.2" cy="1462.7" r="7.6" fill="url(#gBead)"/>
</g>
<path d="M1299.1,1329.1 L1302.8,1329.1 L1306.7,1329.1 L1310.6,1329.1 L1314.4,1329.1 L1318.0,1329.0 L1321.4,1328.9 L1324.8,1328.9 L1328.3,1328.9 L1331.8,1328.8 L1335.2,1328.7 L1338.5,1328.6 L1341.8,1328.3 L1345.0,1327.9 L1348.1,1327.3 L1351.3,1326.7 L1354.4,1325.9 L1357.4,1325.1 L1360.3,1324.2 L1363.0,1323.2 L1365.6,1322.3 L1368.0,1321.4 L1370.1,1320.6 L1372.0,1319.6 L1373.7,1318.2 L1375.3,1316.6 L1376.7,1314.7 L1378.1,1312.5 L1379.6,1310.1 L1381.0,1307.5 L1382.4,1305.3 L1383.8,1302.9 L1385.2,1300.4 L1386.5,1297.7 L1387.8,1295.0 L1389.1,1292.2 L1390.4,1289.3 L1391.7,1286.3 L1393.1,1283.2 L1394.5,1279.9 L1395.9,1276.4 L1397.3,1272.9 L1398.6,1269.4 L1399.9,1266.0 L1401.2,1262.8 L1402.3,1260.0 L1403.3,1257.7 L1404.1,1255.7 L1404.8,1253.9 L1405.4,1252.1 L1406.1,1250.3 L1406.9,1248.3 L1407.8,1246.3 L1408.9,1244.1 L1410.2,1242.0 L1411.6,1239.7 L1413.1,1237.3 L1414.8,1234.7 L1416.5,1232.2 L1418.3,1229.6 L1420.2,1227.0 L1422.1,1224.5 L1424.1,1222.2 L1426.3,1220.3 L1428.6,1218.6 L1430.9,1217.2 L1433.3,1216.1 L1435.8,1215.0 L1438.2,1214.1 L1440.6,1213.3 L1443.0,1212.5 L1445.4,1211.5 L1447.8,1210.3 L1450.3,1209.1 L1452.8,1208.0 L1455.3,1206.9 L1457.9,1206.1 L1460.5,1205.8 L1463.2,1206.0 L1466.1,1206.7 L1469.0,1207.6 L1471.9,1208.6 L1474.8,1209.7 L1477.7,1210.8 L1480.4,1211.9 L1483.0,1212.8 L1485.4,1213.6 L1487.8,1214.5 L1490.0,1215.5 L1492.2,1216.7 L1494.3,1218.1 L1496.3,1219.8 L1498.3,1221.8 L1500.2,1224.2 L1502.0,1226.6 L1503.7,1229.0 L1505.3,1231.5 L1506.9,1234.0 L1508.4,1236.6 L1510.0,1239.3 L1511.6,1242.0 L1513.4,1245.0 L1515.3,1248.3 L1517.2,1251.9 L1519.3,1255.8 L1521.4,1259.8 L1523.4,1263.9 L1525.5,1268.0 L1527.4,1272.1 L1529.3,1276.2 L1531.0,1280.6 L1532.7,1284.9 L1534.2,1289.3 L1535.7,1293.5 L1537.3,1297.6 L1538.9,1301.4 L1540.6,1304.9 L1542.5,1307.9 L1544.5,1311.0 L1546.7,1314.0 L1548.9,1316.8 L1551.3,1319.4 L1553.6,1321.8 L1556.1,1323.8 L1558.5,1325.4 L1561.0,1326.6 L1563.3,1327.7 L1565.4,1328.2 L1567.5,1328.4 L1569.7,1328.5 L1572.0,1328.7 L1574.8,1328.9 L1578.1,1329.2 L1582.0,1329.6 L1586.7,1329.8 L1592.1,1329.9 L1597.9,1330.0 L1604.2,1329.9 L1610.7,1329.8 L1617.2,1329.6 L1623.7,1329.5 L1630.0,1329.5 L1636.2,1329.5 L1642.6,1329.5 L1649.1,1329.5 L1655.6,1329.5 L1662.0,1329.5 L1668.3,1329.5 L1674.3,1329.5 L1680.0,1329.5 L1685.6,1329.5 L1691.2,1329.5 L1696.8,1329.5 L1702.1,1329.5 L1707.1,1329.5 L1711.5,1329.5 L1711.5,1364.5 L1707.1,1364.5 L1702.1,1364.5 L1696.8,1364.5 L1691.2,1364.5 L1685.6,1364.5 L1680.0,1364.5 L1674.3,1364.5 L1668.3,1364.5 L1662.0,1364.5 L1655.6,1364.5 L1649.1,1364.5 L1642.6,1364.5 L1636.2,1364.5 L1630.0,1364.5 L1623.7,1364.5 L1617.2,1364.6 L1610.7,1364.8 L1604.2,1364.9 L1597.9,1365.0 L1592.1,1364.9 L1586.7,1364.8 L1582.0,1364.4 L1578.1,1364.0 L1574.8,1363.6 L1572.0,1363.0 L1569.7,1362.1 L1567.5,1360.8 L1565.4,1359.1 L1563.3,1357.1 L1561.0,1355.0 L1558.5,1352.3 L1556.1,1349.3 L1553.6,1346.2 L1551.3,1342.9 L1548.9,1339.5 L1546.7,1336.0 L1544.5,1332.4 L1542.5,1328.7 L1540.6,1324.5 L1538.9,1320.3 L1537.3,1316.0 L1535.7,1311.7 L1534.2,1307.4 L1532.7,1303.3 L1531.0,1299.3 L1529.3,1295.6 L1527.4,1291.7 L1525.5,1287.7 L1523.4,1283.8 L1521.4,1279.8 L1519.3,1276.0 L1517.2,1272.4 L1515.3,1269.1 L1513.4,1266.0 L1511.6,1263.2 L1510.0,1260.6 L1508.4,1258.3 L1506.9,1256.3 L1505.3,1254.6 L1503.7,1253.2 L1502.0,1252.0 L1500.2,1251.0 L1498.3,1250.3 L1496.3,1249.7 L1494.3,1249.2 L1492.2,1248.6 L1490.0,1248.0 L1487.8,1247.3 L1485.4,1246.5 L1483.0,1245.6 L1480.4,1244.6 L1477.7,1243.7 L1474.8,1242.8 L1471.9,1242.0 L1469.0,1241.4 L1466.1,1241.0 L1463.2,1240.8 L1460.5,1240.8 L1457.9,1240.8 L1455.3,1241.0 L1452.8,1241.3 L1450.3,1241.8 L1447.8,1242.6 L1445.4,1243.5 L1443.0,1244.6 L1440.6,1245.7 L1438.2,1246.7 L1435.8,1247.6 L1433.3,1248.5 L1430.9,1249.3 L1428.6,1250.0 L1426.3,1250.7 L1424.1,1251.4 L1422.1,1252.1 L1420.2,1253.0 L1418.3,1254.3 L1416.5,1255.8 L1414.8,1257.6 L1413.1,1259.6 L1411.6,1261.6 L1410.2,1263.6 L1408.9,1265.5 L1407.8,1267.0 L1406.9,1268.3 L1406.1,1269.5 L1405.4,1270.8 L1404.8,1272.4 L1404.1,1274.2 L1403.3,1276.3 L1402.3,1278.8 L1401.2,1281.5 L1399.9,1284.5 L1398.6,1287.9 L1397.3,1291.4 L1395.9,1295.0 L1394.5,1298.5 L1393.1,1302.0 L1391.7,1305.3 L1390.4,1308.3 L1389.1,1311.3 L1387.8,1314.3 L1386.5,1317.2 L1385.2,1320.0 L1383.8,1322.9 L1382.4,1325.7 L1381.0,1328.5 L1379.6,1330.9 L1378.1,1333.3 L1376.7,1335.9 L1375.3,1338.5 L1373.7,1341.2 L1372.0,1344.0 L1370.1,1346.8 L1368.0,1349.6 L1365.6,1351.9 L1363.0,1354.0 L1360.3,1355.8 L1357.4,1357.4 L1354.4,1358.9 L1351.3,1360.1 L1348.1,1361.2 L1345.0,1362.1 L1341.8,1362.9 L1338.5,1363.4 L1335.2,1363.7 L1331.8,1363.8 L1328.3,1363.9 L1324.8,1363.9 L1321.4,1363.9 L1318.0,1364.0 L1314.4,1364.1 L1310.6,1364.1 L1306.7,1364.1 L1302.8,1364.1 L1299.1,1364.1 Z" fill="#ee0000" stroke="#ee0000" stroke-width="6" stroke-linejoin="round"/>
<circle cx="1291.0" cy="1330.0" r="7.6" fill="url(#rBead)"/><circle cx="1302.8" cy="1330.1" r="7.6" fill="url(#rBead)"/><circle cx="1314.4" cy="1330.1" r="7.6" fill="url(#rBead)"/><circle cx="1326.2" cy="1329.9" r="7.6" fill="url(#rBead)"/><circle cx="1337.9" cy="1329.6" r="7.6" fill="url(#rBead)"/><circle cx="1349.4" cy="1328.1" r="7.6" fill="url(#rBead)"/><circle cx="1360.3" cy="1325.3" r="7.6" fill="url(#rBead)"/><circle cx="1370.1" cy="1321.6" r="7.6" fill="url(#rBead)"/><circle cx="1377.3" cy="1314.4" r="7.6" fill="url(#rBead)"/><circle cx="1383.3" cy="1304.9" r="7.6" fill="url(#rBead)"/><circle cx="1388.3" cy="1294.8" r="7.6" fill="url(#rBead)"/><circle cx="1393.1" cy="1284.2" r="7.6" fill="url(#rBead)"/><circle cx="1397.5" cy="1273.1" r="7.6" fill="url(#rBead)"/><circle cx="1401.9" cy="1262.1" r="7.6" fill="url(#rBead)"/><circle cx="1406.3" cy="1250.7" r="7.6" fill="url(#rBead)"/><circle cx="1412.2" cy="1239.6" r="7.6" fill="url(#rBead)"/><circle cx="1419.4" cy="1228.7" r="7.6" fill="url(#rBead)"/><circle cx="1429.1" cy="1219.7" r="7.6" fill="url(#rBead)"/><circle cx="1440.1" cy="1214.5" r="7.6" fill="url(#rBead)"/><circle cx="1450.8" cy="1209.5" r="7.6" fill="url(#rBead)"/><circle cx="1462.1" cy="1206.9" r="7.6" fill="url(#rBead)"/><circle cx="1473.7" cy="1210.1" r="7.6" fill="url(#rBead)"/><circle cx="1485.0" cy="1214.6" r="7.6" fill="url(#rBead)"/><circle cx="1495.9" cy="1220.7" r="7.6" fill="url(#rBead)"/><circle cx="1504.7" cy="1231.1" r="7.6" fill="url(#rBead)"/><circle cx="1511.3" cy="1242.3" r="7.6" fill="url(#rBead)"/><circle cx="1517.2" cy="1252.9" r="7.6" fill="url(#rBead)"/><circle cx="1523.0" cy="1264.0" r="7.6" fill="url(#rBead)"/><circle cx="1528.2" cy="1274.9" r="7.6" fill="url(#rBead)"/><circle cx="1533.0" cy="1286.7" r="7.6" fill="url(#rBead)"/><circle cx="1537.0" cy="1297.7" r="7.6" fill="url(#rBead)"/><circle cx="1541.7" cy="1307.8" r="7.6" fill="url(#rBead)"/><circle cx="1548.0" cy="1316.7" r="7.6" fill="url(#rBead)"/><circle cx="1555.6" cy="1324.2" r="7.6" fill="url(#rBead)"/><circle cx="1564.6" cy="1328.6" r="7.6" fill="url(#rBead)"/><circle cx="1576.0" cy="1330.2" r="7.6" fill="url(#rBead)"/><circle cx="1587.7" cy="1330.9" r="7.6" fill="url(#rBead)"/><circle cx="1600.4" cy="1330.9" r="7.6" fill="url(#rBead)"/><circle cx="1612.0" cy="1330.7" r="7.6" fill="url(#rBead)"/><circle cx="1623.7" cy="1330.5" r="7.6" fill="url(#rBead)"/><circle cx="1636.2" cy="1330.5" r="7.6" fill="url(#rBead)"/><circle cx="1647.8" cy="1330.5" r="7.6" fill="url(#rBead)"/><circle cx="1659.5" cy="1330.5" r="7.6" fill="url(#rBead)"/><circle cx="1671.9" cy="1330.5" r="7.6" fill="url(#rBead)"/><circle cx="1684.5" cy="1330.5" r="7.6" fill="url(#rBead)"/><circle cx="1696.8" cy="1330.5" r="7.6" fill="url(#rBead)"/><circle cx="1708.9" cy="1330.5" r="7.6" fill="url(#rBead)"/><circle cx="1718.0" cy="1330.5" r="7.6" fill="url(#rBead)"/><circle cx="1296.5" cy="1341.0" r="7.6" fill="url(#rBead)"/><circle cx="1308.3" cy="1341.1" r="7.6" fill="url(#rBead)"/><circle cx="1319.9" cy="1341.0" r="7.6" fill="url(#rBead)"/><circle cx="1331.7" cy="1340.8" r="7.6" fill="url(#rBead)"/><circle cx="1343.3" cy="1340.0" r="7.6" fill="url(#rBead)"/><circle cx="1354.7" cy="1337.2" r="7.6" fill="url(#rBead)"/><circle cx="1365.2" cy="1332.7" r="7.6" fill="url(#rBead)"/><circle cx="1374.2" cy="1326.0" r="7.6" fill="url(#rBead)"/><circle cx="1380.3" cy="1316.4" r="7.6" fill="url(#rBead)"/><circle cx="1385.9" cy="1306.0" r="7.6" fill="url(#rBead)"/><circle cx="1390.6" cy="1295.6" r="7.6" fill="url(#rBead)"/><circle cx="1395.2" cy="1284.7" r="7.6" fill="url(#rBead)"/><circle cx="1399.6" cy="1273.5" r="7.6" fill="url(#rBead)"/><circle cx="1403.9" cy="1262.6" r="7.6" fill="url(#rBead)"/><circle cx="1408.7" cy="1251.7" r="7.6" fill="url(#rBead)"/><circle cx="1415.4" cy="1241.9" r="7.6" fill="url(#rBead)"/><circle cx="1423.4" cy="1233.0" r="7.6" fill="url(#rBead)"/><circle cx="1433.9" cy="1226.7" r="7.6" fill="url(#rBead)"/><circle cx="1445.2" cy="1222.6" r="7.6" fill="url(#rBead)"/><circle cx="1456.1" cy="1218.5" r="7.6" fill="url(#rBead)"/><circle cx="1467.6" cy="1218.0" r="7.6" fill="url(#rBead)"/><circle cx="1479.0" cy="1222.1" r="7.6" fill="url(#rBead)"/><circle cx="1490.1" cy="1226.8" r="7.6" fill="url(#rBead)"/><circle cx="1500.6" cy="1232.8" r="7.6" fill="url(#rBead)"/><circle cx="1508.3" cy="1242.7" r="7.6" fill="url(#rBead)"/><circle cx="1514.2" cy="1253.5" r="7.6" fill="url(#rBead)"/><circle cx="1519.9" cy="1263.9" r="7.6" fill="url(#rBead)"/><circle cx="1525.5" cy="1274.9" r="7.6" fill="url(#rBead)"/><circle cx="1530.5" cy="1285.7" r="7.6" fill="url(#rBead)"/><circle cx="1535.0" cy="1297.3" r="7.6" fill="url(#rBead)"/><circle cx="1539.0" cy="1308.3" r="7.6" fill="url(#rBead)"/><circle cx="1544.3" cy="1318.7" r="7.6" fill="url(#rBead)"/><circle cx="1551.3" cy="1328.0" r="7.6" fill="url(#rBead)"/><circle cx="1559.5" cy="1336.0" r="7.6" fill="url(#rBead)"/><circle cx="1569.5" cy="1340.8" r="7.6" fill="url(#rBead)"/><circle cx="1581.4" cy="1342.0" r="7.6" fill="url(#rBead)"/><circle cx="1593.2" cy="1342.1" r="7.6" fill="url(#rBead)"/><circle cx="1605.9" cy="1341.9" r="7.6" fill="url(#rBead)"/><circle cx="1617.5" cy="1341.7" r="7.6" fill="url(#rBead)"/><circle cx="1629.2" cy="1341.5" r="7.6" fill="url(#rBead)"/><circle cx="1641.7" cy="1341.5" r="7.6" fill="url(#rBead)"/><circle cx="1653.3" cy="1341.5" r="7.6" fill="url(#rBead)"/><circle cx="1665.0" cy="1341.5" r="7.6" fill="url(#rBead)"/><circle cx="1677.4" cy="1341.5" r="7.6" fill="url(#rBead)"/><circle cx="1690.0" cy="1341.5" r="7.6" fill="url(#rBead)"/><circle cx="1702.3" cy="1341.5" r="7.6" fill="url(#rBead)"/><circle cx="1714.4" cy="1341.5" r="7.6" fill="url(#rBead)"/><circle cx="1718.0" cy="1341.5" r="7.6" fill="url(#rBead)"/><circle cx="1291.0" cy="1352.0" r="7.6" fill="url(#rBead)"/><circle cx="1302.8" cy="1352.1" r="7.6" fill="url(#rBead)"/><circle cx="1314.4" cy="1352.1" r="7.6" fill="url(#rBead)"/><circle cx="1326.2" cy="1351.9" r="7.6" fill="url(#rBead)"/><circle cx="1337.9" cy="1351.5" r="7.6" fill="url(#rBead)"/><circle cx="1349.4" cy="1349.2" r="7.6" fill="url(#rBead)"/><circle cx="1360.3" cy="1344.9" r="7.6" fill="url(#rBead)"/><circle cx="1370.1" cy="1337.8" r="7.6" fill="url(#rBead)"/><circle cx="1377.3" cy="1327.6" r="7.6" fill="url(#rBead)"/><circle cx="1383.3" cy="1317.0" r="7.6" fill="url(#rBead)"/><circle cx="1388.3" cy="1306.4" r="7.6" fill="url(#rBead)"/><circle cx="1393.1" cy="1295.4" r="7.6" fill="url(#rBead)"/><circle cx="1397.5" cy="1284.2" r="7.6" fill="url(#rBead)"/><circle cx="1401.9" cy="1273.2" r="7.6" fill="url(#rBead)"/><circle cx="1406.3" cy="1262.5" r="7.6" fill="url(#rBead)"/><circle cx="1412.2" cy="1253.1" r="7.6" fill="url(#rBead)"/><circle cx="1419.4" cy="1244.8" r="7.6" fill="url(#rBead)"/><circle cx="1429.1" cy="1238.9" r="7.6" fill="url(#rBead)"/><circle cx="1440.1" cy="1234.7" r="7.6" fill="url(#rBead)"/><circle cx="1450.8" cy="1230.6" r="7.6" fill="url(#rBead)"/><circle cx="1462.1" cy="1228.8" r="7.6" fill="url(#rBead)"/><circle cx="1473.7" cy="1231.1" r="7.6" fill="url(#rBead)"/><circle cx="1485.0" cy="1235.0" r="7.6" fill="url(#rBead)"/><circle cx="1495.9" cy="1239.1" r="7.6" fill="url(#rBead)"/><circle cx="1504.7" cy="1246.0" r="7.6" fill="url(#rBead)"/><circle cx="1511.3" cy="1255.3" r="7.6" fill="url(#rBead)"/><circle cx="1517.2" cy="1265.3" r="7.6" fill="url(#rBead)"/><circle cx="1523.0" cy="1276.0" r="7.6" fill="url(#rBead)"/><circle cx="1528.2" cy="1286.4" r="7.6" fill="url(#rBead)"/><circle cx="1533.0" cy="1297.7" r="7.6" fill="url(#rBead)"/><circle cx="1537.0" cy="1308.7" r="7.6" fill="url(#rBead)"/><circle cx="1541.7" cy="1319.9" r="7.6" fill="url(#rBead)"/><circle cx="1548.0" cy="1330.3" r="7.6" fill="url(#rBead)"/><circle cx="1555.6" cy="1340.0" r="7.6" fill="url(#rBead)"/><circle cx="1564.6" cy="1348.0" r="7.6" fill="url(#rBead)"/><circle cx="1576.0" cy="1351.8" r="7.6" fill="url(#rBead)"/><circle cx="1587.7" cy="1352.8" r="7.6" fill="url(#rBead)"/><circle cx="1600.4" cy="1352.9" r="7.6" fill="url(#rBead)"/><circle cx="1612.0" cy="1352.7" r="7.6" fill="url(#rBead)"/><circle cx="1623.7" cy="1352.5" r="7.6" fill="url(#rBead)"/><circle cx="1636.2" cy="1352.5" r="7.6" fill="url(#rBead)"/><circle cx="1647.8" cy="1352.5" r="7.6" fill="url(#rBead)"/><circle cx="1659.5" cy="1352.5" r="7.6" fill="url(#rBead)"/><circle cx="1671.9" cy="1352.5" r="7.6" fill="url(#rBead)"/><circle cx="1684.5" cy="1352.5" r="7.6" fill="url(#rBead)"/><circle cx="1696.8" cy="1352.5" r="7.6" fill="url(#rBead)"/><circle cx="1708.9" cy="1352.5" r="7.6" fill="url(#rBead)"/><circle cx="1718.0" cy="1352.5" r="7.6" fill="url(#rBead)"/><circle cx="1296.5" cy="1363.0" r="7.6" fill="url(#rBead)"/><circle cx="1308.3" cy="1363.1" r="7.6" fill="url(#rBead)"/><circle cx="1319.9" cy="1363.0" r="7.6" fill="url(#rBead)"/><circle cx="1331.7" cy="1362.8" r="7.6" fill="url(#rBead)"/><circle cx="1343.3" cy="1361.8" r="7.6" fill="url(#rBead)"/><circle cx="1354.7" cy="1358.3" r="7.6" fill="url(#rBead)"/><circle cx="1365.2" cy="1352.2" r="7.6" fill="url(#rBead)"/><circle cx="1374.2" cy="1342.1" r="7.6" fill="url(#rBead)"/><circle cx="1380.3" cy="1329.7" r="7.6" fill="url(#rBead)"/><circle cx="1385.9" cy="1318.1" r="7.6" fill="url(#rBead)"/><circle cx="1390.6" cy="1307.1" r="7.6" fill="url(#rBead)"/><circle cx="1395.2" cy="1296.0" r="7.6" fill="url(#rBead)"/><circle cx="1399.6" cy="1284.6" r="7.6" fill="url(#rBead)"/><circle cx="1403.9" cy="1273.7" r="7.6" fill="url(#rBead)"/><circle cx="1408.7" cy="1263.6" r="7.6" fill="url(#rBead)"/><circle cx="1415.4" cy="1255.3" r="7.6" fill="url(#rBead)"/><circle cx="1423.4" cy="1249.1" r="7.6" fill="url(#rBead)"/><circle cx="1433.9" cy="1245.9" r="7.6" fill="url(#rBead)"/><circle cx="1445.2" cy="1242.8" r="7.6" fill="url(#rBead)"/><circle cx="1456.1" cy="1239.5" r="7.6" fill="url(#rBead)"/><circle cx="1467.6" cy="1240.0" r="7.6" fill="url(#rBead)"/><circle cx="1479.0" cy="1243.2" r="7.6" fill="url(#rBead)"/><circle cx="1490.1" cy="1247.1" r="7.6" fill="url(#rBead)"/><circle cx="1500.6" cy="1251.3" r="7.6" fill="url(#rBead)"/><circle cx="1508.3" cy="1257.5" r="7.6" fill="url(#rBead)"/><circle cx="1514.2" cy="1266.4" r="7.6" fill="url(#rBead)"/><circle cx="1519.9" cy="1276.2" r="7.6" fill="url(#rBead)"/><circle cx="1525.5" cy="1286.9" r="7.6" fill="url(#rBead)"/><circle cx="1530.5" cy="1297.2" r="7.6" fill="url(#rBead)"/><circle cx="1535.0" cy="1308.3" r="7.6" fill="url(#rBead)"/><circle cx="1539.0" cy="1319.4" r="7.6" fill="url(#rBead)"/><circle cx="1544.3" cy="1330.8" r="7.6" fill="url(#rBead)"/><circle cx="1551.3" cy="1341.6" r="7.6" fill="url(#rBead)"/><circle cx="1559.5" cy="1351.8" r="7.6" fill="url(#rBead)"/><circle cx="1569.5" cy="1360.2" r="7.6" fill="url(#rBead)"/><circle cx="1581.4" cy="1363.6" r="7.6" fill="url(#rBead)"/><circle cx="1593.2" cy="1364.0" r="7.6" fill="url(#rBead)"/><circle cx="1605.9" cy="1363.9" r="7.6" fill="url(#rBead)"/><circle cx="1617.5" cy="1363.7" r="7.6" fill="url(#rBead)"/><circle cx="1629.2" cy="1363.5" r="7.6" fill="url(#rBead)"/><circle cx="1641.7" cy="1363.5" r="7.6" fill="url(#rBead)"/><circle cx="1653.3" cy="1363.5" r="7.6" fill="url(#rBead)"/><circle cx="1665.0" cy="1363.5" r="7.6" fill="url(#rBead)"/><circle cx="1677.4" cy="1363.5" r="7.6" fill="url(#rBead)"/><circle cx="1690.0" cy="1363.5" r="7.6" fill="url(#rBead)"/><circle cx="1702.3" cy="1363.5" r="7.6" fill="url(#rBead)"/><circle cx="1714.4" cy="1363.5" r="7.6" fill="url(#rBead)"/><circle cx="1718.0" cy="1363.5" r="7.6" fill="url(#rBead)"/>
</g>
<g id="axes" fill="none" stroke="#000" stroke-width="6.2">
<rect x="246.0" y="123.5" width="1938.0" height="1423.5"/>
<path d="M242.9,123.5 H2187.1" stroke-width="6.6"/>
<path d="M407.5,1547.0 V1533.0 M407.5,123.5 V137.5 M569.0,1547.0 V1518.5 M569.0,123.5 V152.0 M730.5,1547.0 V1533.0 M730.5,123.5 V137.5 M892.0,1547.0 V1518.5 M892.0,123.5 V152.0 M1053.5,1547.0 V1533.0 M1053.5,123.5 V137.5 M1215.0,1547.0 V1518.5 M1215.0,123.5 V152.0 M1376.5,1547.0 V1533.0 M1376.5,123.5 V137.5 M1538.0,1547.0 V1518.5 M1538.0,123.5 V152.0 M1699.5,1547.0 V1533.0 M1699.5,123.5 V137.5 M1861.0,1547.0 V1518.5 M1861.0,123.5 V152.0 M2022.5,1547.0 V1533.0 M2022.5,123.5 V137.5 M246.0,1404.7 H261.0 M2184.0,1404.7 H2169.0 M246.0,1262.3 H275.0 M2184.0,1262.3 H2155.0 M246.0,1120.0 H261.0 M2184.0,1120.0 H2169.0 M246.0,977.6 H275.0 M2184.0,977.6 H2155.0 M246.0,835.2 H261.0 M2184.0,835.2 H2169.0 M246.0,692.9 H275.0 M2184.0,692.9 H2155.0 M246.0,550.6 H261.0 M2184.0,550.6 H2169.0 M246.0,408.2 H275.0 M2184.0,408.2 H2155.0 M246.0,265.9 H261.0 M2184.0,265.9 H2169.0" stroke-linecap="round" stroke-width="5.8"/>
</g>
<g id="one-wave" fill="#ff0000">
<circle cx="563.3" cy="165.6" r="24.6"/>
<circle cx="642.8" cy="165.6" r="24.6"/>
<circle cx="962.7" cy="308.4" r="24.6"/>
<circle cx="882.4" cy="336.4" r="24.6"/>
<circle cx="882.4" cy="393.1" r="24.6"/>
<circle cx="484.4" cy="479" r="24.6"/>
<circle cx="563.3" cy="479" r="24.6"/>
<circle cx="642.8" cy="479" r="24.6"/>
<circle cx="882.4" cy="479" r="24.6"/>
<circle cx="803.3" cy="575" r="24.6"/>
<circle cx="720.5" cy="657" r="24.6"/>
<circle cx="484.4" cy="664.1" r="24.6"/>
<circle cx="484.4" cy="721.2" r="24.6"/>
<circle cx="563.3" cy="721.2" r="24.6"/>
<circle cx="642.8" cy="721.2" r="24.6"/>
<circle cx="484.4" cy="778.6" r="24.6"/>
<circle cx="563.3" cy="778.6" r="24.6"/>
<circle cx="642.8" cy="778.6" r="24.6"/>
<circle cx="563.3" cy="906.3" r="24.6"/>
<circle cx="563.3" cy="959.7" r="24.6"/>
<circle cx="563.3" cy="1081.5" r="24.6"/>
<circle cx="484.4" cy="1142.8" r="24.6"/>
<circle cx="803.3" cy="1142.8" r="24.6"/>
<circle cx="1117.8" cy="1142.8" r="24.6"/>
<circle cx="1357" cy="1142.8" r="24.6"/>
<circle cx="1667.5" cy="1142.8" r="24.6"/>
<circle cx="1871" cy="1142.8" r="24.6"/>
<circle cx="642.8" cy="1191.5" r="24.6"/>
<circle cx="404.4" cy="1263.7" r="24.6"/>
<circle cx="642.8" cy="1263.7" r="24.6"/>
<circle cx="962.5" cy="1263.7" r="24.6"/>
<circle cx="882.4" cy="1384.5" r="24.6"/>
<circle cx="2074.4" cy="1204.6" r="24.6"/>
<circle cx="2074.4" cy="1447.6" r="24.6"/>
</g>
<g id="two-wave" fill="#0000ff" stroke="#0000ff" stroke-width="3.5" stroke-linejoin="bevel">
<polygon points="1121.5,137.7 1127.8,157.0 1148.0,157.0 1131.6,168.9 1137.9,188.2 1121.5,176.3 1105.1,188.2 1111.4,168.9 1095.0,157.0 1115.2,157.0"/>
<polygon points="962.7,366.1 969.0,385.4 989.2,385.4 972.8,397.3 979.1,416.6 962.7,404.7 946.3,416.6 952.6,397.3 936.2,385.4 956.4,385.4"/>
<polygon points="1537.8,380.6 1544.1,399.9 1564.3,399.9 1547.9,411.8 1554.2,431.1 1537.8,419.2 1521.4,431.1 1527.7,411.8 1511.3,399.9 1531.5,399.9"/>
<polygon points="962.7,451.6 969.0,470.9 989.2,470.9 972.8,482.8 979.1,502.1 962.7,490.2 946.3,502.1 952.6,482.8 936.2,470.9 956.4,470.9"/>
<polygon points="2074.4,509.1 2080.7,528.4 2100.9,528.4 2084.5,540.3 2090.8,559.6 2074.4,547.7 2058.0,559.6 2064.3,540.3 2047.9,528.4 2068.1,528.4"/>
<polygon points="876.0,547.4 882.3,566.7 902.5,566.7 886.1,578.6 892.4,597.9 876.0,586.0 859.6,597.9 865.9,578.6 849.5,566.7 869.7,566.7"/>
<polygon points="802.0,628.6 808.3,647.9 828.5,647.9 812.1,659.8 818.4,679.1 802.0,667.2 785.6,679.1 791.9,659.8 775.5,647.9 795.7,647.9"/>
<polygon points="2074.4,690.8 2080.7,710.1 2100.9,710.1 2084.5,722.0 2090.8,741.3 2074.4,729.4 2058.0,741.3 2064.3,722.0 2047.9,710.1 2068.1,710.1"/>
<polygon points="722.4,750.8 728.7,770.1 748.9,770.1 732.5,782.0 738.8,801.3 722.4,789.4 706.0,801.3 712.3,782.0 695.9,770.1 716.1,770.1"/>
<polygon points="960.0,750.6 966.3,769.9 986.5,769.9 970.1,781.8 976.4,801.1 960.0,789.2 943.6,801.1 949.9,781.8 933.5,769.9 953.7,769.9"/>
<polygon points="1198.8,750.8 1205.1,770.1 1225.3,770.1 1208.9,782.0 1215.2,801.3 1198.8,789.4 1182.4,801.3 1188.7,782.0 1172.3,770.1 1192.5,770.1"/>
<polygon points="1993.6,750.9 1999.9,770.2 2020.1,770.2 2003.7,782.1 2010.0,801.4 1993.6,789.5 1977.2,801.4 1983.5,782.1 1967.1,770.2 1987.3,770.2"/>
<polygon points="2074.4,750.9 2080.7,770.2 2100.9,770.2 2084.5,782.1 2090.8,801.4 2074.4,789.5 2058.0,801.4 2064.3,782.1 2047.9,770.2 2068.1,770.2"/>
<polygon points="642.8,878.5 649.1,897.8 669.3,897.8 652.9,909.7 659.2,929.0 642.8,917.1 626.4,929.0 632.7,909.7 616.3,897.8 636.5,897.8"/>
<polygon points="642.9,949.6 649.2,968.9 669.4,968.9 653.0,980.8 659.3,1000.1 642.9,988.2 626.5,1000.1 632.8,980.8 616.4,968.9 636.6,968.9"/>
<polygon points="2074.4,932.7 2080.7,952.0 2100.9,952.0 2084.5,963.9 2090.8,983.2 2074.4,971.3 2058.0,983.2 2064.3,963.9 2047.9,952.0 2068.1,952.0"/>
<polygon points="642.8,1054.1 649.1,1073.4 669.3,1073.4 652.9,1085.3 659.2,1104.6 642.8,1092.7 626.4,1104.6 632.7,1085.3 616.3,1073.4 636.5,1073.4"/>
<polygon points="882.4,1054.1 888.7,1073.4 908.9,1073.4 892.5,1085.3 898.8,1104.6 882.4,1092.7 866.0,1104.6 872.3,1085.3 855.9,1073.4 876.1,1073.4"/>
<polygon points="1118.0,1054.1 1124.3,1073.4 1144.5,1073.4 1128.1,1085.3 1134.4,1104.6 1118.0,1092.7 1101.6,1104.6 1107.9,1085.3 1091.5,1073.4 1111.7,1073.4"/>
<polygon points="1357.0,1054.1 1363.3,1073.4 1383.5,1073.4 1367.1,1085.3 1373.4,1104.6 1357.0,1092.7 1340.6,1104.6 1346.9,1085.3 1330.5,1073.4 1350.7,1073.4"/>
<polygon points="1667.5,1054.1 1673.8,1073.4 1694.0,1073.4 1677.6,1085.3 1683.9,1104.6 1667.5,1092.7 1651.1,1104.6 1657.4,1085.3 1641.0,1073.4 1661.2,1073.4"/>
<polygon points="1871.0,1054.1 1877.3,1073.4 1897.5,1073.4 1881.1,1085.3 1887.4,1104.6 1871.0,1092.7 1854.6,1104.6 1860.9,1085.3 1844.5,1073.4 1864.7,1073.4"/>
<polygon points="2074.4,1054.1 2080.7,1073.4 2100.9,1073.4 2084.5,1085.3 2090.8,1104.6 2074.4,1092.7 2058.0,1104.6 2064.3,1085.3 2047.9,1073.4 2068.1,1073.4"/>
</g>
<g id="boundaries" fill="none" stroke="#000" clip-path="url(#plotclip)">
<path d="M598.0,127.66 V136.96 M598.0,154.00 V163.30 M598.0,180.34 V189.64 M598.0,206.68 V215.98 M598.0,233.02 V242.32 M598.0,259.36 V268.66 M598.0,285.70 V295.00 M598.0,312.04 V321.34 M598.0,338.38 V347.68 M598.0,364.72 V374.02 M598.0,391.06 V400.36 M598.0,417.40 V426.70 M598.0,443.74 V453.04 M598.0,470.08 V479.38 M598.0,496.42 V505.72 M598.0,522.76 V532.06 M598.0,549.10 V558.40 M598.0,575.44 V584.74 M598.0,601.78 V611.08 M598.0,628.12 V637.42 M598.0,654.46 V663.76 M598.0,680.80 V690.10 M598.0,707.14 V716.44 M598.0,733.48 V742.78 M598.0,759.82 V769.12 M598.0,786.16 V795.46 M598.0,812.50 V821.80 M598.0,838.84 V848.14 M598.0,865.18 V874.48 M598.0,891.52 V900.82 M598.0,917.86 V927.16 M598.0,944.20 V953.50 M239.47,1561.09 L244.27,1553.12 M253.08,1538.53 L257.88,1530.57 M266.69,1515.98 L271.49,1508.02 M280.30,1493.43 L285.10,1485.47 M293.91,1470.88 L298.71,1462.91 M307.52,1448.32 L312.32,1440.36 M321.13,1425.77 L325.93,1417.81 M334.74,1403.22 L339.54,1395.26 M348.35,1380.67 L353.15,1372.70 M361.96,1358.12 L366.76,1350.15 M375.57,1335.56 L380.37,1327.60 M389.18,1313.01 L393.98,1305.05 M402.79,1290.46 L407.59,1282.50 M416.40,1267.91 L421.20,1259.94 M430.01,1245.35 L434.81,1237.39 M443.62,1222.80 L448.42,1214.84 M457.23,1200.25 L462.03,1192.29 M470.84,1177.70 L475.64,1169.73 M484.45,1155.14 L489.25,1147.18 M498.06,1132.59 L502.86,1124.63 M511.67,1110.04 L516.47,1102.08 M525.28,1087.49 L530.08,1079.52 M538.88,1064.94 L543.69,1056.97 M552.49,1042.38 L557.30,1034.42 M566.10,1019.83 L570.91,1011.87 M579.71,997.28 L584.52,989.32" stroke-width="16.0" stroke-linecap="round"/>
<path d="M599.5,968.0 L1108.5,123.5" stroke-width="13.7" stroke-linecap="round"/>
<path d="M598.0,980.0 L598.0,1115.8 L2157,1115.8" stroke-width="13.7" stroke-linecap="round" stroke-linejoin="round"/>
</g>
<g id="ticklabels" font-size="80">
<text x="244.5" y="1642.5" text-anchor="middle">0</text>
<text x="567.5" y="1642.5" text-anchor="middle">1</text>
<text x="890.5" y="1642.5" text-anchor="middle">2</text>
<text x="1213.5" y="1642.5" text-anchor="middle">3</text>
<text x="1536.5" y="1642.5" text-anchor="middle">4</text>
<text x="1859.5" y="1642.5" text-anchor="middle">5</text>
<text x="2182.5" y="1642.5" text-anchor="middle">6</text>
<text x="215" y="1568.5" text-anchor="end">0</text>
<text x="215" y="1283.8" text-anchor="end">2</text>
<text x="215" y="999.1" text-anchor="end">4</text>
<text x="215" y="714.4" text-anchor="end">6</text>
<text x="215" y="429.7" text-anchor="end">8</text>
<text x="215" y="145.0" text-anchor="end">10</text>
</g>
<text id="xlabel" x="1213.2" y="1761.5" font-size="97" text-anchor="middle">Graphene width <tspan class="it">w</tspan> (nm)</text>
<text id="ylabel" transform="translate(82,849) rotate(-90)" font-size="97.8" text-anchor="middle">Graphene length <tspan class="it">l</tspan> (nm)</text>
<text id="w11" x="402" y="89" font-size="106.3"><tspan class="it">w</tspan>=1.1nm</text>
<text id="l3" x="2201.5" y="1149.5" font-size="107"><tspan class="it">l</tspan>=3nm</text>
<text id="l37" font-size="106"><tspan class="it" x="1069" y="446.5">l</tspan><tspan x="1126.2" y="458.6" font-size="119">=</tspan><tspan x="1210" y="446.5">3.7</tspan><tspan class="it" x="1347" y="446.5">w</tspan></text>
<g id="arrow" stroke="#000" fill="#000"><path d="M1157.7,342.6 L1084,309" fill="none" stroke-width="7.4" stroke-linecap="round"/><polygon points="1028.6,283 1096.3,290.2 1076.2,330" stroke="none"/></g>
<g id="legend">
<rect x="1461.8" y="177.6" width="670.2" height="175.3" fill="#fff" stroke="#000" stroke-width="2.2"/>
<circle cx="1557" cy="226.3" r="24.6" fill="#ff0000"/>
<polygon points="1557.0,284.4 1563.3,303.7 1583.5,303.7 1567.1,315.6 1573.4,334.9 1557.0,323.0 1540.6,334.9 1546.9,315.6 1530.5,303.7 1550.7,303.7" fill="#0000ff" stroke="#0000ff" stroke-width="3.5" stroke-linejoin="bevel"/>
<text x="1653.5" y="250.7" font-size="69.6">One-wave mode</text>
<text x="1653.5" y="336.2" font-size="69.6">Two-wave mode</text>
</g>
</svg>
</body>
</html>
